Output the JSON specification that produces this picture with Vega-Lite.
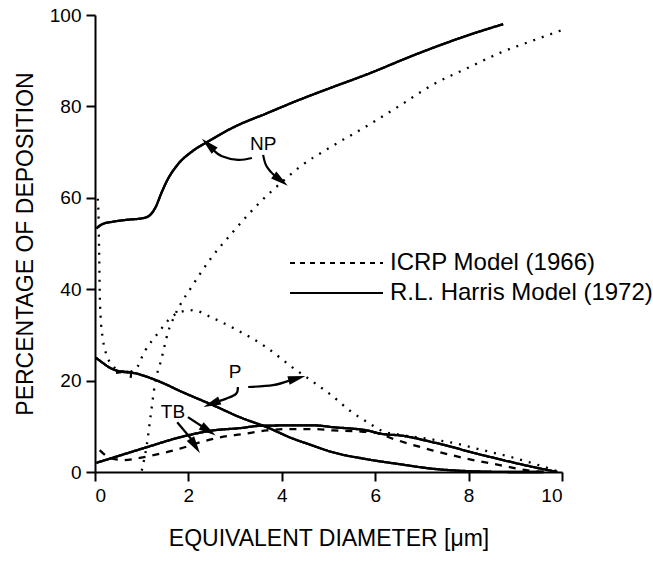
{
  "$schema": "https://vega.github.io/schema/vega-lite/v6.json",
  "width": 467,
  "height": 457,
  "autosize": {"type": "none"},
  "padding": {"left": 95, "top": 15, "right": 91, "bottom": 93},
  "background": "white",
  "config": {
    "view": {"stroke": null},
    "font": "Liberation Sans",
    "axis": {
      "grid": false,
      "domainColor": "black",
      "domainWidth": 2,
      "tickColor": "black",
      "tickWidth": 2,
      "tickSize": 9,
      "labelFont": "Liberation Sans",
      "labelFontSize": 19,
      "labelColor": "black",
      "titleFont": "Liberation Sans",
      "titleFontSize": 23,
      "titleFontWeight": "normal",
      "titleColor": "black"
    }
  },
  "datasets": {
    "curves": [
      {"curve": "Harris NP", "model": "R.L. Harris Model (1972)", "diameter": 0.03, "deposition": 53.3},
      {"curve": "Harris NP", "model": "R.L. Harris Model (1972)", "diameter": 0.15, "deposition": 54.2},
      {"curve": "Harris NP", "model": "R.L. Harris Model (1972)", "diameter": 0.4, "deposition": 54.8},
      {"curve": "Harris NP", "model": "R.L. Harris Model (1972)", "diameter": 0.7, "deposition": 55.2},
      {"curve": "Harris NP", "model": "R.L. Harris Model (1972)", "diameter": 1.0, "deposition": 55.5},
      {"curve": "Harris NP", "model": "R.L. Harris Model (1972)", "diameter": 1.15, "deposition": 56},
      {"curve": "Harris NP", "model": "R.L. Harris Model (1972)", "diameter": 1.3, "deposition": 58},
      {"curve": "Harris NP", "model": "R.L. Harris Model (1972)", "diameter": 1.42, "deposition": 61},
      {"curve": "Harris NP", "model": "R.L. Harris Model (1972)", "diameter": 1.54, "deposition": 63.7},
      {"curve": "Harris NP", "model": "R.L. Harris Model (1972)", "diameter": 1.75, "deposition": 67},
      {"curve": "Harris NP", "model": "R.L. Harris Model (1972)", "diameter": 2.1, "deposition": 70.3},
      {"curve": "Harris NP", "model": "R.L. Harris Model (1972)", "diameter": 2.4, "deposition": 72.2},
      {"curve": "Harris NP", "model": "R.L. Harris Model (1972)", "diameter": 2.96, "deposition": 75.4},
      {"curve": "Harris NP", "model": "R.L. Harris Model (1972)", "diameter": 3.68, "deposition": 78.5},
      {"curve": "Harris NP", "model": "R.L. Harris Model (1972)", "diameter": 4.39, "deposition": 81.5},
      {"curve": "Harris NP", "model": "R.L. Harris Model (1972)", "diameter": 5.03, "deposition": 84},
      {"curve": "Harris NP", "model": "R.L. Harris Model (1972)", "diameter": 5.82, "deposition": 87},
      {"curve": "Harris NP", "model": "R.L. Harris Model (1972)", "diameter": 6.9, "deposition": 91.5},
      {"curve": "Harris NP", "model": "R.L. Harris Model (1972)", "diameter": 7.97, "deposition": 95.5},
      {"curve": "Harris NP", "model": "R.L. Harris Model (1972)", "diameter": 8.74, "deposition": 98},

      {"curve": "ICRP NP", "model": "ICRP Model (1966)", "diameter": 1.0, "deposition": 0.3},
      {"curve": "ICRP NP", "model": "ICRP Model (1966)", "diameter": 1.11, "deposition": 6},
      {"curve": "ICRP NP", "model": "ICRP Model (1966)", "diameter": 1.2, "deposition": 13},
      {"curve": "ICRP NP", "model": "ICRP Model (1966)", "diameter": 1.28, "deposition": 19},
      {"curve": "ICRP NP", "model": "ICRP Model (1966)", "diameter": 1.43, "deposition": 25},
      {"curve": "ICRP NP", "model": "ICRP Model (1966)", "diameter": 1.56, "deposition": 30.5},
      {"curve": "ICRP NP", "model": "ICRP Model (1966)", "diameter": 1.71, "deposition": 34.3},
      {"curve": "ICRP NP", "model": "ICRP Model (1966)", "diameter": 2.1, "deposition": 41},
      {"curve": "ICRP NP", "model": "ICRP Model (1966)", "diameter": 2.5, "deposition": 47},
      {"curve": "ICRP NP", "model": "ICRP Model (1966)", "diameter": 2.96, "deposition": 52.6},
      {"curve": "ICRP NP", "model": "ICRP Model (1966)", "diameter": 3.53, "deposition": 59},
      {"curve": "ICRP NP", "model": "ICRP Model (1966)", "diameter": 4.03, "deposition": 63.7},
      {"curve": "ICRP NP", "model": "ICRP Model (1966)", "diameter": 4.39, "deposition": 66.8},
      {"curve": "ICRP NP", "model": "ICRP Model (1966)", "diameter": 5.03, "deposition": 71},
      {"curve": "ICRP NP", "model": "ICRP Model (1966)", "diameter": 5.82, "deposition": 75.7},
      {"curve": "ICRP NP", "model": "ICRP Model (1966)", "diameter": 6.5, "deposition": 80},
      {"curve": "ICRP NP", "model": "ICRP Model (1966)", "diameter": 7.24, "deposition": 84.8},
      {"curve": "ICRP NP", "model": "ICRP Model (1966)", "diameter": 8.0, "deposition": 88.5},
      {"curve": "ICRP NP", "model": "ICRP Model (1966)", "diameter": 8.67, "deposition": 91.7},
      {"curve": "ICRP NP", "model": "ICRP Model (1966)", "diameter": 9.4, "deposition": 94.5},
      {"curve": "ICRP NP", "model": "ICRP Model (1966)", "diameter": 10, "deposition": 96.7},

      {"curve": "ICRP P", "model": "ICRP Model (1966)", "diameter": 0.06, "deposition": 59.8},
      {"curve": "ICRP P", "model": "ICRP Model (1966)", "diameter": 0.08, "deposition": 54},
      {"curve": "ICRP P", "model": "ICRP Model (1966)", "diameter": 0.09, "deposition": 47},
      {"curve": "ICRP P", "model": "ICRP Model (1966)", "diameter": 0.1, "deposition": 40},
      {"curve": "ICRP P", "model": "ICRP Model (1966)", "diameter": 0.12, "deposition": 34},
      {"curve": "ICRP P", "model": "ICRP Model (1966)", "diameter": 0.17, "deposition": 29},
      {"curve": "ICRP P", "model": "ICRP Model (1966)", "diameter": 0.25, "deposition": 25.5},
      {"curve": "ICRP P", "model": "ICRP Model (1966)", "diameter": 0.36, "deposition": 23.5},
      {"curve": "ICRP P", "model": "ICRP Model (1966)", "diameter": 0.5, "deposition": 22.3},
      {"curve": "ICRP P", "model": "ICRP Model (1966)", "diameter": 0.7, "deposition": 21.9},
      {"curve": "ICRP P", "model": "ICRP Model (1966)", "diameter": 0.86, "deposition": 22.4},
      {"curve": "ICRP P", "model": "ICRP Model (1966)", "diameter": 1.07, "deposition": 26.5},
      {"curve": "ICRP P", "model": "ICRP Model (1966)", "diameter": 1.35, "deposition": 30.4},
      {"curve": "ICRP P", "model": "ICRP Model (1966)", "diameter": 1.65, "deposition": 34},
      {"curve": "ICRP P", "model": "ICRP Model (1966)", "diameter": 1.9, "deposition": 35.2},
      {"curve": "ICRP P", "model": "ICRP Model (1966)", "diameter": 2.1, "deposition": 35.4},
      {"curve": "ICRP P", "model": "ICRP Model (1966)", "diameter": 2.5, "deposition": 33.8},
      {"curve": "ICRP P", "model": "ICRP Model (1966)", "diameter": 2.96, "deposition": 31.5},
      {"curve": "ICRP P", "model": "ICRP Model (1966)", "diameter": 3.68, "deposition": 27.2},
      {"curve": "ICRP P", "model": "ICRP Model (1966)", "diameter": 4.24, "deposition": 22.8},
      {"curve": "ICRP P", "model": "ICRP Model (1966)", "diameter": 4.7, "deposition": 19.5},
      {"curve": "ICRP P", "model": "ICRP Model (1966)", "diameter": 5.1, "deposition": 16.5},
      {"curve": "ICRP P", "model": "ICRP Model (1966)", "diameter": 5.46, "deposition": 13.4},
      {"curve": "ICRP P", "model": "ICRP Model (1966)", "diameter": 5.82, "deposition": 11},
      {"curve": "ICRP P", "model": "ICRP Model (1966)", "diameter": 6.17, "deposition": 8.9},
      {"curve": "ICRP P", "model": "ICRP Model (1966)", "diameter": 6.5, "deposition": 8.2},
      {"curve": "ICRP P", "model": "ICRP Model (1966)", "diameter": 7.1, "deposition": 7.3},
      {"curve": "ICRP P", "model": "ICRP Model (1966)", "diameter": 7.6, "deposition": 6.5},
      {"curve": "ICRP P", "model": "ICRP Model (1966)", "diameter": 8.3, "deposition": 4.8},
      {"curve": "ICRP P", "model": "ICRP Model (1966)", "diameter": 9.0, "deposition": 3},
      {"curve": "ICRP P", "model": "ICRP Model (1966)", "diameter": 9.5, "deposition": 1.5},
      {"curve": "ICRP P", "model": "ICRP Model (1966)", "diameter": 9.95, "deposition": 0},

      {"curve": "ICRP TB", "model": "ICRP Model (1966)", "diameter": 0.1, "deposition": 4.8},
      {"curve": "ICRP TB", "model": "ICRP Model (1966)", "diameter": 0.3, "deposition": 3.2},
      {"curve": "ICRP TB", "model": "ICRP Model (1966)", "diameter": 0.6, "deposition": 2.6},
      {"curve": "ICRP TB", "model": "ICRP Model (1966)", "diameter": 0.96, "deposition": 3.1},
      {"curve": "ICRP TB", "model": "ICRP Model (1966)", "diameter": 1.4, "deposition": 4},
      {"curve": "ICRP TB", "model": "ICRP Model (1966)", "diameter": 1.82, "deposition": 5.1},
      {"curve": "ICRP TB", "model": "ICRP Model (1966)", "diameter": 2.25, "deposition": 6.5},
      {"curve": "ICRP TB", "model": "ICRP Model (1966)", "diameter": 2.68, "deposition": 7.6},
      {"curve": "ICRP TB", "model": "ICRP Model (1966)", "diameter": 3.17, "deposition": 8.3},
      {"curve": "ICRP TB", "model": "ICRP Model (1966)", "diameter": 3.68, "deposition": 9.1},
      {"curve": "ICRP TB", "model": "ICRP Model (1966)", "diameter": 4.1, "deposition": 9.4},
      {"curve": "ICRP TB", "model": "ICRP Model (1966)", "diameter": 4.67, "deposition": 9.4},
      {"curve": "ICRP TB", "model": "ICRP Model (1966)", "diameter": 5.1, "deposition": 9.1},
      {"curve": "ICRP TB", "model": "ICRP Model (1966)", "diameter": 5.6, "deposition": 8.9},
      {"curve": "ICRP TB", "model": "ICRP Model (1966)", "diameter": 6.0, "deposition": 8.6},
      {"curve": "ICRP TB", "model": "ICRP Model (1966)", "diameter": 6.4, "deposition": 7.2},
      {"curve": "ICRP TB", "model": "ICRP Model (1966)", "diameter": 6.75, "deposition": 6.1},
      {"curve": "ICRP TB", "model": "ICRP Model (1966)", "diameter": 7.24, "deposition": 4.7},
      {"curve": "ICRP TB", "model": "ICRP Model (1966)", "diameter": 7.97, "deposition": 2.9},
      {"curve": "ICRP TB", "model": "ICRP Model (1966)", "diameter": 8.67, "deposition": 1.5},
      {"curve": "ICRP TB", "model": "ICRP Model (1966)", "diameter": 9.38, "deposition": 0.2},
      {"curve": "ICRP TB", "model": "ICRP Model (1966)", "diameter": 9.7, "deposition": 0},

      {"curve": "Harris TB", "model": "R.L. Harris Model (1972)", "diameter": 0.03, "deposition": 2},
      {"curve": "Harris TB", "model": "R.L. Harris Model (1972)", "diameter": 0.5, "deposition": 3.5},
      {"curve": "Harris TB", "model": "R.L. Harris Model (1972)", "diameter": 1.1, "deposition": 5.4},
      {"curve": "Harris TB", "model": "R.L. Harris Model (1972)", "diameter": 1.82, "deposition": 7.6},
      {"curve": "Harris TB", "model": "R.L. Harris Model (1972)", "diameter": 2.53, "deposition": 9.1},
      {"curve": "Harris TB", "model": "R.L. Harris Model (1972)", "diameter": 3.1, "deposition": 9.6},
      {"curve": "Harris TB", "model": "R.L. Harris Model (1972)", "diameter": 3.53, "deposition": 10.1},
      {"curve": "Harris TB", "model": "R.L. Harris Model (1972)", "diameter": 4.24, "deposition": 10.2},
      {"curve": "Harris TB", "model": "R.L. Harris Model (1972)", "diameter": 4.7, "deposition": 10.2},
      {"curve": "Harris TB", "model": "R.L. Harris Model (1972)", "diameter": 5.1, "deposition": 9.8},
      {"curve": "Harris TB", "model": "R.L. Harris Model (1972)", "diameter": 5.82, "deposition": 9.1},
      {"curve": "Harris TB", "model": "R.L. Harris Model (1972)", "diameter": 6.17, "deposition": 8.3},
      {"curve": "Harris TB", "model": "R.L. Harris Model (1972)", "diameter": 6.53, "deposition": 8.0},
      {"curve": "Harris TB", "model": "R.L. Harris Model (1972)", "diameter": 7.24, "deposition": 6.5},
      {"curve": "Harris TB", "model": "R.L. Harris Model (1972)", "diameter": 8.3, "deposition": 3.7},
      {"curve": "Harris TB", "model": "R.L. Harris Model (1972)", "diameter": 9.38, "deposition": 1.1},
      {"curve": "Harris TB", "model": "R.L. Harris Model (1972)", "diameter": 9.9, "deposition": 0},

      {"curve": "Harris P", "model": "R.L. Harris Model (1972)", "diameter": 0.02, "deposition": 25},
      {"curve": "Harris P", "model": "R.L. Harris Model (1972)", "diameter": 0.15, "deposition": 24},
      {"curve": "Harris P", "model": "R.L. Harris Model (1972)", "diameter": 0.32, "deposition": 22.8},
      {"curve": "Harris P", "model": "R.L. Harris Model (1972)", "diameter": 0.55, "deposition": 22},
      {"curve": "Harris P", "model": "R.L. Harris Model (1972)", "diameter": 0.81, "deposition": 21.7},
      {"curve": "Harris P", "model": "R.L. Harris Model (1972)", "diameter": 1.33, "deposition": 20},
      {"curve": "Harris P", "model": "R.L. Harris Model (1972)", "diameter": 1.89, "deposition": 17.4},
      {"curve": "Harris P", "model": "R.L. Harris Model (1972)", "diameter": 2.53, "deposition": 14.6},
      {"curve": "Harris P", "model": "R.L. Harris Model (1972)", "diameter": 3.1, "deposition": 12},
      {"curve": "Harris P", "model": "R.L. Harris Model (1972)", "diameter": 3.68, "deposition": 9.8},
      {"curve": "Harris P", "model": "R.L. Harris Model (1972)", "diameter": 4.24, "deposition": 7.3},
      {"curve": "Harris P", "model": "R.L. Harris Model (1972)", "diameter": 4.6, "deposition": 6},
      {"curve": "Harris P", "model": "R.L. Harris Model (1972)", "diameter": 5.1, "deposition": 4.3},
      {"curve": "Harris P", "model": "R.L. Harris Model (1972)", "diameter": 5.82, "deposition": 2.8},
      {"curve": "Harris P", "model": "R.L. Harris Model (1972)", "diameter": 6.53, "deposition": 1.7},
      {"curve": "Harris P", "model": "R.L. Harris Model (1972)", "diameter": 7.24, "deposition": 0.7},
      {"curve": "Harris P", "model": "R.L. Harris Model (1972)", "diameter": 7.97, "deposition": 0.2},
      {"curve": "Harris P", "model": "R.L. Harris Model (1972)", "diameter": 9.0, "deposition": 0},
      {"curve": "Harris P", "model": "R.L. Harris Model (1972)", "diameter": 9.6, "deposition": 0}
    ],
    "arrows": [
      {"arrow": "NP1", "step": 1, "diameter": 3.36, "deposition": 68.7},
      {"arrow": "NP1", "step": 2, "diameter": 3.06, "deposition": 68.3},
      {"arrow": "NP1", "step": 3, "diameter": 2.72, "deposition": 69.1},
      {"arrow": "NP1", "step": 4, "diameter": 2.52, "deposition": 70.6},
      {"arrow": "NP2", "step": 1, "diameter": 3.6, "deposition": 69.4},
      {"arrow": "NP2", "step": 2, "diameter": 3.66, "deposition": 67.2},
      {"arrow": "NP2", "step": 3, "diameter": 3.79, "deposition": 65.4},
      {"arrow": "NP2", "step": 4, "diameter": 3.88, "deposition": 64.7},
      {"arrow": "P1", "step": 1, "diameter": 3.06, "deposition": 18.6},
      {"arrow": "P1", "step": 2, "diameter": 3.02, "deposition": 17.1},
      {"arrow": "P1", "step": 3, "diameter": 2.8, "deposition": 16},
      {"arrow": "P1", "step": 4, "diameter": 2.62, "deposition": 15.4},
      {"arrow": "P2", "step": 1, "diameter": 3.28, "deposition": 18.6},
      {"arrow": "P2", "step": 2, "diameter": 3.81, "deposition": 19.0},
      {"arrow": "P2", "step": 3, "diameter": 4.16, "deposition": 20.0},
      {"arrow": "TB1", "step": 1, "diameter": 1.99, "deposition": 12.0},
      {"arrow": "TB1", "step": 2, "diameter": 2.32, "deposition": 9.8},
      {"arrow": "TB2", "step": 1, "diameter": 1.76, "deposition": 10.9},
      {"arrow": "TB2", "step": 2, "diameter": 2.08, "deposition": 7.0},
      {"arrow": "hook", "step": 1, "diameter": 0.45, "deposition": 21.7},
      {"arrow": "hook", "step": 2, "diameter": 0.74, "deposition": 21.9},
      {"arrow": "hook", "step": 3, "diameter": 0.76, "deposition": 20.6}
    ],
    "heads": [
      {"arrow": "NP1", "diameter": 2.46, "deposition": 71.3},
      {"arrow": "NP2", "diameter": 3.94, "deposition": 64.1},
      {"arrow": "P1", "diameter": 2.54, "deposition": 15.1},
      {"arrow": "P2", "diameter": 4.28, "deposition": 20.4},
      {"arrow": "TB1", "diameter": 2.39, "deposition": 9.3},
      {"arrow": "TB2", "diameter": 2.12, "deposition": 6.1}
    ],
    "labels": [
      {"label": "NP", "diameter": 3.6, "deposition": 71.8},
      {"label": "P", "diameter": 3.0, "deposition": 21.9},
      {"label": "TB", "diameter": 1.67, "deposition": 13.2}
    ]
  },
  "encoding": {
    "x": {"field": "diameter", "type": "quantitative", "scale": {"domain": [0, 10], "nice": false},
      "axis": {"values": [0, 2, 4, 6, 8, 10], "title": "EQUIVALENT DIAMETER [μm]", "labelPadding": 5, "titlePadding": 22}},
    "y": {"field": "deposition", "type": "quantitative", "scale": {"domain": [0, 100], "nice": false},
      "axis": {"values": [0, 20, 40, 60, 80, 100], "title": "PERCENTAGE OF DEPOSITION", "labelPadding": 5, "titlePadding": 12}}
  },
  "resolve": {"scale": {"strokeDash": "independent"}},
  "layer": [
    {
      "data": {"name": "curves"},
      "transform": [{"filter": "datum.curve !== 'ICRP TB'"}],
      "mark": {"type": "line", "color": "black", "strokeWidth": 2.3, "interpolate": "monotone"},
      "encoding": {
        "detail": {"field": "curve", "type": "nominal"},
        "strokeDash": {
          "field": "model", "type": "nominal",
          "scale": {"domain": ["ICRP Model (1966)", "R.L. Harris Model (1972)"], "range": [[2, 7], [1, 0]]},
          "legend": null
        }
      }
    },
    {
      "data": {"name": "curves"},
      "transform": [{"filter": "datum.model === 'R.L. Harris Model (1972)'"}],
      "mark": {"type": "line", "color": "black", "strokeWidth": 2.3, "interpolate": "monotone"},
      "encoding": {
        "detail": {"field": "curve", "type": "nominal"},
        "strokeDash": {
          "field": "model", "type": "nominal",
          "scale": {"domain": ["ICRP Model (1966)", "R.L. Harris Model (1972)"], "range": [[5, 5], [1, 0]]},
          "legend": {
            "title": null, "orient": "none", "legendX": 194, "legendY": 233,
            "symbolType": "stroke", "symbolSize": 8649, "symbolStrokeWidth": 2, "symbolStrokeColor": "black",
            "clipHeight": 30, "rowPadding": 0, "padding": 0,
            "labelFont": "Liberation Sans", "labelFontSize": 24, "labelColor": "black", "labelOffset": 6, "labelLimit": 400
          }
        }
      }
    },
    {
      "data": {"name": "curves"},
      "transform": [{"filter": "datum.curve === 'ICRP TB'"}],
      "mark": {"type": "line", "color": "black", "strokeWidth": 2.3, "strokeDash": [7, 7], "interpolate": "monotone"}
    },
    {
      "data": {"name": "arrows"},
      "mark": {"type": "line", "color": "black", "strokeWidth": 2.2, "interpolate": "cardinal"},
      "encoding": {
        "detail": {"field": "arrow", "type": "nominal"},
        "order": {"field": "step", "type": "quantitative"}
      }
    },
    {"data": {"name": "heads"}, "transform": [{"filter": "datum.arrow === 'NP1'"}],
      "mark": {"type": "point", "shape": "M0,-1L0.4,0.6L-0.4,0.6Z", "filled": true, "color": "black", "opacity": 1, "size": 480, "angle": 313}},
    {"data": {"name": "heads"}, "transform": [{"filter": "datum.arrow === 'NP2'"}],
      "mark": {"type": "point", "shape": "M0,-1L0.4,0.6L-0.4,0.6Z", "filled": true, "color": "black", "opacity": 1, "size": 480, "angle": 127}},
    {"data": {"name": "heads"}, "transform": [{"filter": "datum.arrow === 'P1'"}],
      "mark": {"type": "point", "shape": "M0,-1L0.4,0.6L-0.4,0.6Z", "filled": true, "color": "black", "opacity": 1, "size": 480, "angle": 248}},
    {"data": {"name": "heads"}, "transform": [{"filter": "datum.arrow === 'P2'"}],
      "mark": {"type": "point", "shape": "M0,-1L0.4,0.6L-0.4,0.6Z", "filled": true, "color": "black", "opacity": 1, "size": 480, "angle": 75}},
    {"data": {"name": "heads"}, "transform": [{"filter": "datum.arrow === 'TB1'"}],
      "mark": {"type": "point", "shape": "M0,-1L0.4,0.6L-0.4,0.6Z", "filled": true, "color": "black", "opacity": 1, "size": 480, "angle": 124}},
    {"data": {"name": "heads"}, "transform": [{"filter": "datum.arrow === 'TB2'"}],
      "mark": {"type": "point", "shape": "M0,-1L0.4,0.6L-0.4,0.6Z", "filled": true, "color": "black", "opacity": 1, "size": 480, "angle": 147}},
    {
      "data": {"name": "labels"},
      "mark": {"type": "text", "font": "Liberation Sans", "fontSize": 19, "color": "black", "align": "center", "baseline": "middle"},
      "encoding": {"text": {"field": "label", "type": "nominal"}}
    }
  ]
}
